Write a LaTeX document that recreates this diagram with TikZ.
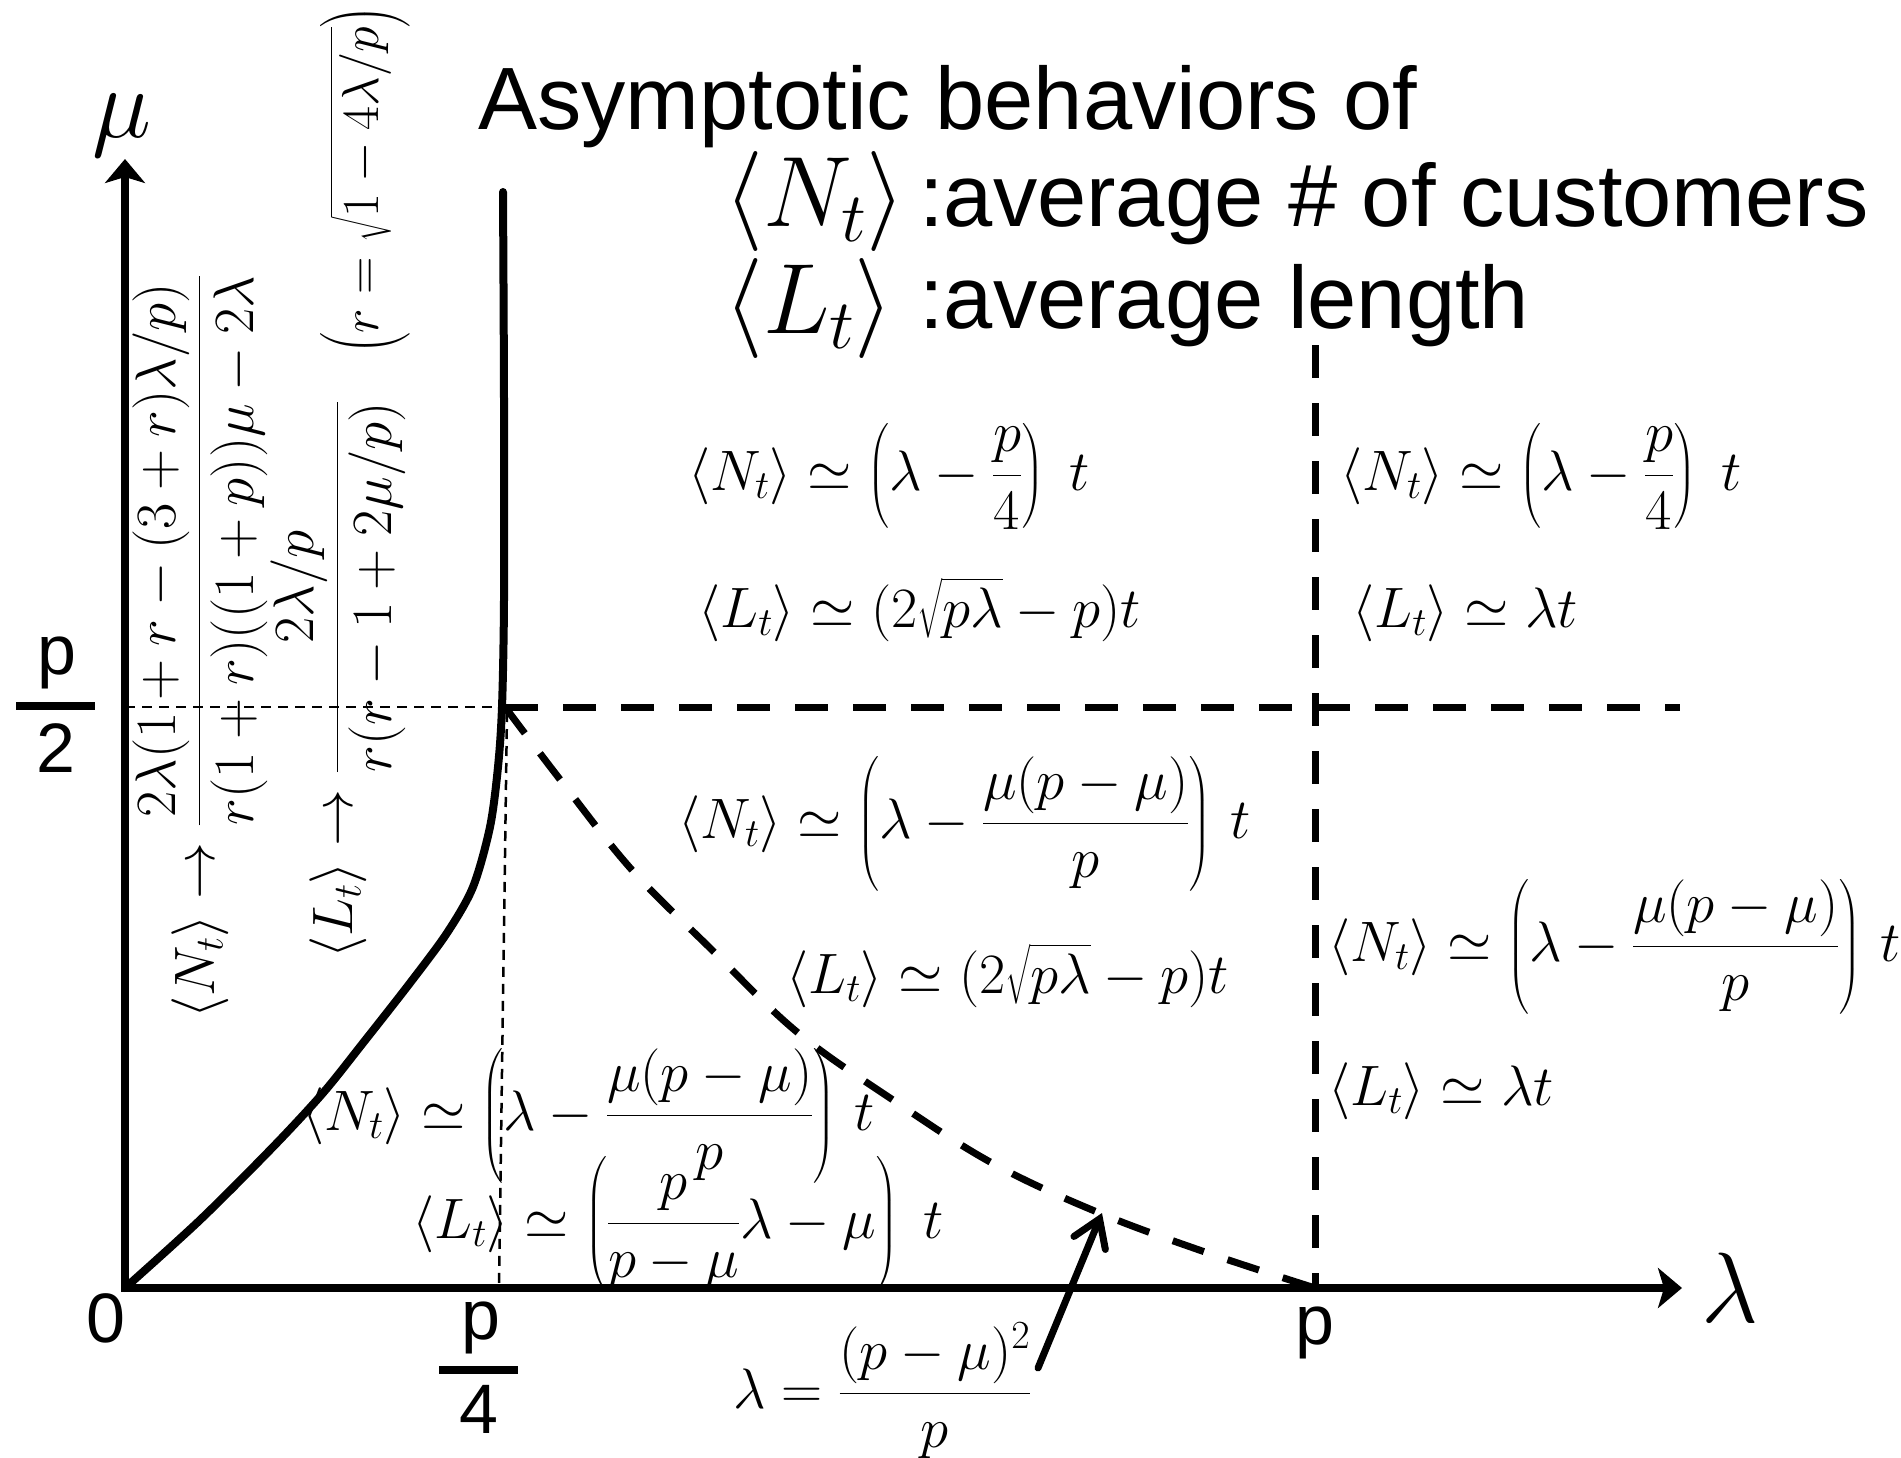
\RequirePackage{fix-cm}
\documentclass[tikz,border=0pt]{standalone}
\usepackage{amsmath}
\usepackage{fontspec}
\newfontfamily\arial{Liberation Sans}
\usetikzlibrary{arrows.meta}
\tikzset{
  axl/.style={line width=8pt, line cap=rect, -{Stealth[length=24pt,width=40pt,inset=6pt]}},
  thickdash/.style={line width=7pt, dash pattern=on 33pt off 25pt},
  thindash/.style={line width=2.5pt, dash pattern=on 10pt off 7pt},
  bcurve/.style={line width=8pt, line cap=round},
  ptr/.style={line width=7pt, line cap=round, -{Straight Barb[length=26pt,width=34pt,line cap=round]}},
  fm/.style={inner sep=0pt, anchor=base west, font=\fontsize{57}{62}\selectfont},
  sm/.style={inner sep=0pt, anchor=base west, font=\fontsize{52}{56}\selectfont},
  lbl/.style={inner sep=0pt, anchor=base, font=\fontsize{70}{70}\selectfont\arial},
  ttl/.style={inner sep=0pt, anchor=base west, font=\fontsize{88.5}{90}\selectfont\arial},
  ttlm/.style={inner sep=0pt, anchor=base west, font=\fontsize{100}{104}\selectfont},
  axlab/.style={inner sep=0pt, anchor=base, font=\fontsize{100}{100}\selectfont},
  fracbar/.style={line width=8pt},
}
\begin{document}
\begin{tikzpicture}[x=1pt,y=-1pt]
\useasboundingbox (0,0) rectangle (1901,1458);
\fill[white] (0,0) rectangle (1901,1458);

% key points
\coordinate (O) at (125,1288);
\coordinate (Ytop) at (125,159);
\coordinate (Xtip) at (1682,1288);
\coordinate (K) at (505,707);
\coordinate (Yh) at (125,707);
\coordinate (Kt) at (507,712);
\coordinate (Kb) at (499,1288);
\coordinate (Hend) at (1680,707);
\coordinate (Pv) at (1315,345);
\coordinate (P) at (1315,1288);
\coordinate (Ctop) at (503,192);
\coordinate (Atail) at (1038,1368);
\coordinate (Atip) at (1102,1213);

% thin dashed guides
\draw[thindash] (Yh) -- (K);
\draw[thindash] (Kt) -- (Kb);

% thick dashed boundaries
\draw[thickdash] (K) -- (Hend);
\draw[thickdash] (Pv) -- (P);
\draw[thickdash] plot[smooth, tension=0.6] coordinates {(505,707) (562,782) (632,870) (710,948) (797,1032) (893,1100) (992,1163) (1097,1212) (1205,1252) (1315,1288)};

% thick solid boundary curve
\draw[bcurve] plot[smooth, tension=0.5] coordinates {(125,1288) (200,1220) (273,1147) (323,1093) (363,1043) (410,983) (447,933) (473,887) (490,827) (498,767) (502,707) (504,600) (504,400) (503,192)};

% axes
\draw[axl] (O) -- (Ytop);
\draw[axl] (O) -- (Xtip);

% pointer arrow
\draw[ptr] (Atail) -- (Atip);

% axis labels
\node[axlab] (mu) at (122,138) {$\mu$};
\node[axlab] (lam) at (1730,1322) {$\lambda$};
\node[lbl] (zero) at (106,1342) {0};
\node[lbl] (pax) at (1315,1344) {p};
\node[lbl] (p2n) at (57,674) {p};
\draw[fracbar] (16,706) -- (95,706);
\node[lbl] (p2d) at (56,772) {2};
\node[lbl] (p4n) at (481,1339) {p};
\draw[fracbar] (439,1370) -- (518,1370);
\node[lbl] (p4d) at (479,1433) {4};

% title
\node[ttl] (t1) at (478,130) {Asymptotic behaviors of};
\node[ttlm] (t2m) at (724,227) {$\langle N_t\rangle$};
\node[ttl] (t2) at (919,227) {:average \# of customers};
\node[ttlm] (t3m) at (724,333) {$\langle L_t\rangle$};
\node[ttl] (t3) at (919,328) {:average length};

% region formulas
\node[fm] (a1) at (688,490) {$\displaystyle \langle N_t\rangle \simeq \left(\lambda-\frac{p}{4}\right)\;t$};
\node[fm] (a2) at (698,627) {$\displaystyle \langle L_t\rangle \simeq (2\sqrt{p\lambda}-p)t$};
\node[fm] (b1) at (1340,490) {$\displaystyle \langle N_t\rangle \simeq \left(\lambda-\frac{p}{4}\right)\;t$};
\node[fm] (b2) at (1352,627) {$\displaystyle \langle L_t\rangle \simeq \lambda t$};
\node[fm] (c1) at (678,838) {$\displaystyle \langle N_t\rangle \simeq \left(\lambda-\frac{\mu(p-\mu)}{p}\right)\,t$};
\node[fm] (c2) at (786,993) {$\displaystyle \langle L_t\rangle \simeq (2\sqrt{p\lambda}-p)t$};
\node[fm] (d1) at (1328,961) {$\displaystyle \langle N_t\rangle \simeq \left(\lambda-\frac{\mu(p-\mu)}{p}\right)\,t$};
\node[fm] (d2) at (1328,1105) {$\displaystyle \langle L_t\rangle \simeq \lambda t$};
\node[fm] (e1) at (302,1130) {$\displaystyle \langle N_t\rangle \simeq \left(\lambda-\frac{\mu(p-\mu)}{p}\right)\,t$};
\node[fm] (e2) at (412,1238) {$\displaystyle \langle L_t\rangle \simeq \left(\frac{p}{p-\mu}\lambda-\mu\right)\;t$};
\node[fm] (f) at (733,1408) {$\displaystyle \lambda=\frac{(p-\mu)^2}{p}$};

% rotated limit formulas
\node[fm, rotate=90] (r1) at (214,1019) {$\displaystyle \langle N_t\rangle \to \frac{2\lambda(1+r-(3+r)\lambda/p)}{r(1+r)((1+p))\mu-2\lambda}$};
\node[fm, rotate=90] (r2) at (352,959) {$\displaystyle \langle L_t\rangle \to \frac{2\lambda/p}{r(r-1+2\mu/p)}$};
\node[sm, rotate=90] (r3) at (378,355) {$\displaystyle \Bigl(r=\sqrt{1-4\lambda/p}\Bigr)$};
\end{tikzpicture}
\end{document}
